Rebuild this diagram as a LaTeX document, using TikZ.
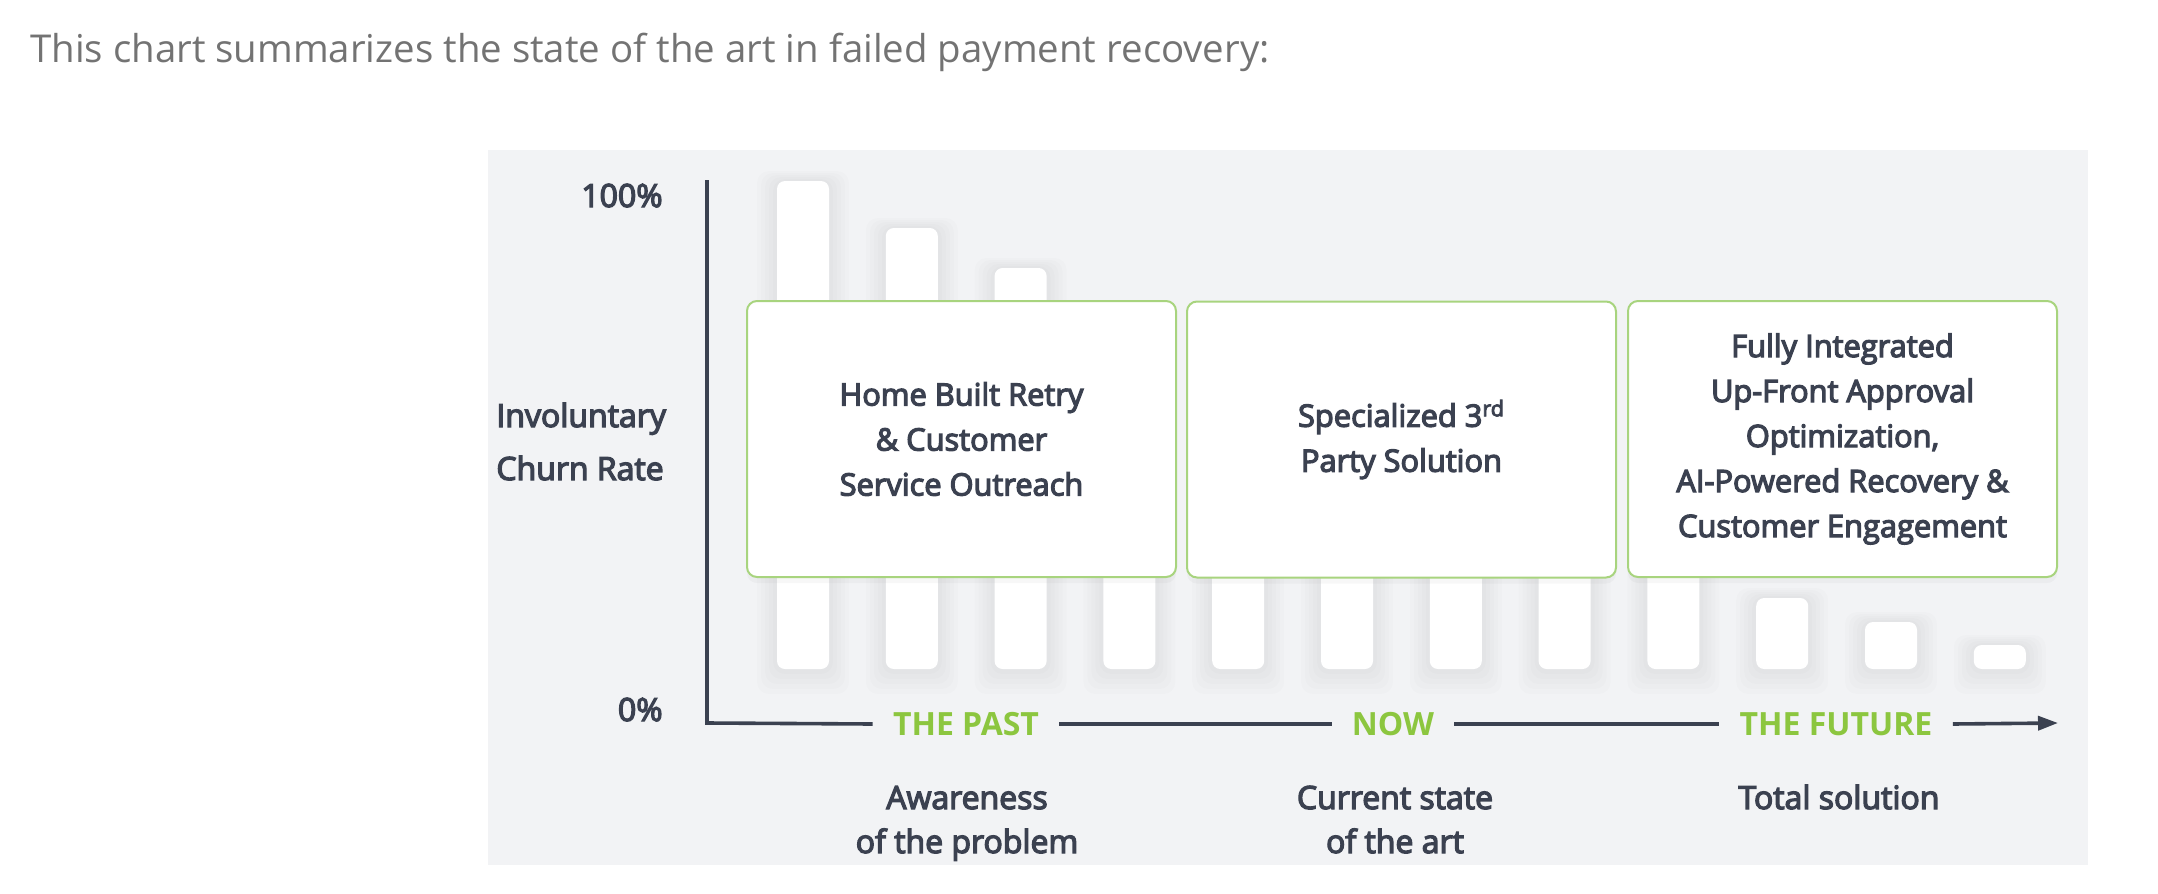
\documentclass[tikz,border=0pt]{standalone}
\usepackage{fontspec}
\setmainfont{Open Sans}
\newfontfamily\semib{Open Sans}[FakeBold=4]
\usetikzlibrary{positioning,shadows,arrows.meta}
\definecolor{inkgray}{HTML}{3B4150}
\definecolor{captiongray}{HTML}{737373}
\definecolor{panelgray}{HTML}{F2F3F5}
\definecolor{leafgreen}{HTML}{8CC63F}
\definecolor{boxgreen}{HTML}{A8D47E}
\tikzset{
	axisline/.style={line width=1.8pt, color=inkgray},
	era/.style={font=\bfseries\fontsize{16}{19}\selectfont, text=leafgreen, inner xsep=10pt, inner ysep=0pt},
	stagebox/.style={draw=boxgreen, line width=1pt, fill=white, rounded corners=5pt,
		minimum width=214.5pt, minimum height=138pt, align=center, text=inkgray,
		font=\semib\fontsize{15.4}{22.5}\selectfont,
		drop shadow={opacity=0.06, shadow xshift=0pt, shadow yshift=-3pt}},
	stagetext/.style={align=center, text=inkgray, font=\semib\fontsize{16}{22}\selectfont, anchor=base},
	ticktext/.style={text=inkgray, font=\semib\fontsize{16}{19}\selectfont, anchor=base east, inner sep=0pt}
}
\begin{document}
\begin{tikzpicture}[x=0.5pt, y=-0.5pt]
			%%%%% START %%%%%
			\useasboundingbox (0,0) rectangle (2158,894);
			
			\node[anchor=base west, inner sep=0pt, text=captiongray, font=\fontsize{19.2}{24}\selectfont] (caption) at (30,62) {This chart summarizes the state of the art in failed payment recovery:};
			
			\fill[panelgray] (488,150) rectangle (2088,865);
			
			% bars
			\foreach \i/\t in {0/181, 1/228, 2/268, 3/320, 4/320, 5/320, 6/320, 7/320, 8/320, 9/598, 10/622, 11/645} {
				\pgfmathsetmacro\bx{777+108.8*\i}
				\foreach \k in {1,...,5}
					\fill[black, opacity=0.012, rounded corners=6pt] (\bx-4*\k,\t-2*\k) rectangle (\bx+52+4*\k,669+5*\k);
				\fill[white, rounded corners=4pt] (\bx,\t) rectangle (\bx+52,669);
			}
			
			% boxes
			\node[stagebox] (homebuilt) at (961.5,439) {Home Built Retry\\ \& Customer\\ Service Outreach};
			\node[stagebox] (specialized) at (1401.5,439.5) {Specialized 3\textsuperscript{rd}\\ Party Solution};
			\node[stagebox] (integrated) at (1842.5,439) {Fully Integrated\\ Up-Front Approval\\ Optimization,\\ AI-Powered Recovery \&\\ Customer Engagement};
			
			% axes
			\node[ticktext] (top) at (663,207) {100\%};
			\node[ticktext] (bottom) at (663,721) {0\%};
			\node[text=inkgray, font=\semib\fontsize{16}{26.5}\selectfont, align=left, anchor=base west, inner sep=0pt] (ylabel) at (496,480) {Involuntary\\ Churn Rate};
			
			\coordinate (ytop) at (707,180);
			\coordinate (origin) at (707,723);
			\coordinate (xend) at (2058,723);
			\node[era] (past) at (966,724) {THE PAST};
			\node[era] (now) at (1393,724) {NOW};
			\node[era] (future) at (1836,724) {THE FUTURE};
			
			\draw[axisline] (ytop) -- (origin) -- (past.west);
			\draw[axisline] (past.east) -- (now.west);
			\draw[axisline] (now.east) -- (future.west);
			\draw[axisline, -{Triangle[length=10pt, width=7pt]}] (future.east) -- (xend);
			
			\node[stagetext] (awareness) at (967,853) {Awareness\\ of the problem};
			\node[stagetext] (current) at (1395,853) {Current state\\ of the art};
			\node[stagetext] (total) at (1839,809) {Total solution};
			
			%%%%% END %%%%%
		\end{tikzpicture}
\end{document}
